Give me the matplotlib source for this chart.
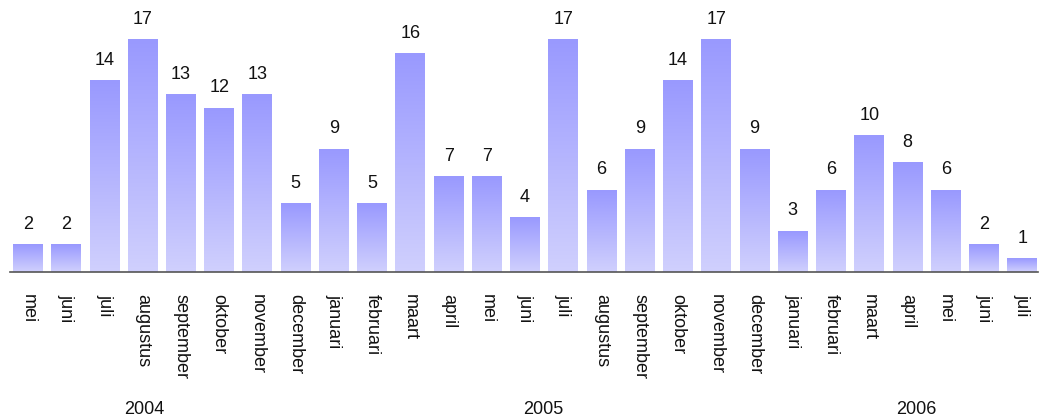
import numpy as np
import matplotlib
matplotlib.use("Agg")
import matplotlib.pyplot as plt
from matplotlib.colors import LinearSegmentedColormap
import matplotlib.transforms as mtransforms

months = ["mei", "juni", "juli", "augustus", "september", "oktober", "november", "december",
          "januari", "februari", "maart", "april", "mei", "juni", "juli", "augustus",
          "september", "oktober", "november", "december",
          "januari", "februari", "maart", "april", "mei", "juni", "juli"]
values = [2, 2, 14, 17, 13, 12, 13, 5, 9, 5, 16, 7, 7, 4, 17, 6, 9, 14, 17, 9, 3, 6, 10, 8, 6, 2, 1]
years = ["2004", "2005", "2006"]
year_pos = [3.03, 13.47, 23.23]

plt.rcParams['font.family'] = ['Liberation Sans', 'DejaVu Sans']

fig = plt.figure(figsize=(10.4, 4.16), dpi=100)
ax = fig.add_axes([0.0096, 0.346, 0.988, 0.654])

x = np.arange(len(values))
w = 0.78
cmap = LinearSegmentedColormap.from_list("g", ["#d0d0fd", "#9999ff"])
grad = np.linspace(0, 1, 256).reshape(-1, 1)
for xi, v in zip(x, values):
    ax.imshow(grad, cmap=cmap, origin="lower", aspect="auto",
              extent=(xi - w / 2, xi + w / 2, 0, v), interpolation="bilinear", zorder=2)
    ax.annotate(str(v), (xi, v), xytext=(0, 8.5), textcoords="offset points",
                ha="center", va="bottom", fontsize=13, color="#111111")

ax.set_xlim(-0.47, 26.4)
ax.set_ylim(0, 19.93)
for s in ["top", "left", "right"]:
    ax.spines[s].set_visible(False)
ax.spines["bottom"].set_color("#555555")
ax.spines["bottom"].set_linewidth(1.2)
ax.set_yticks([])
ax.set_xticks(x)
ax.set_xticklabels(months, rotation=270, fontsize=13, color="#111111")
ax.tick_params(axis="x", length=0, pad=16)
for lab in ax.get_xticklabels():
    lab.set_ha("center")
    lab.set_va("top")

trans = mtransforms.blended_transform_factory(ax.transData, ax.transAxes)
for yr, p in zip(years, year_pos):
    ax.text(p, 0, yr, transform=trans + mtransforms.ScaledTranslation(0, -137 / 100, fig.dpi_scale_trans),
            ha="center", va="center", fontsize=13, color="#111111")

fig.savefig("out.png", dpi=100)
